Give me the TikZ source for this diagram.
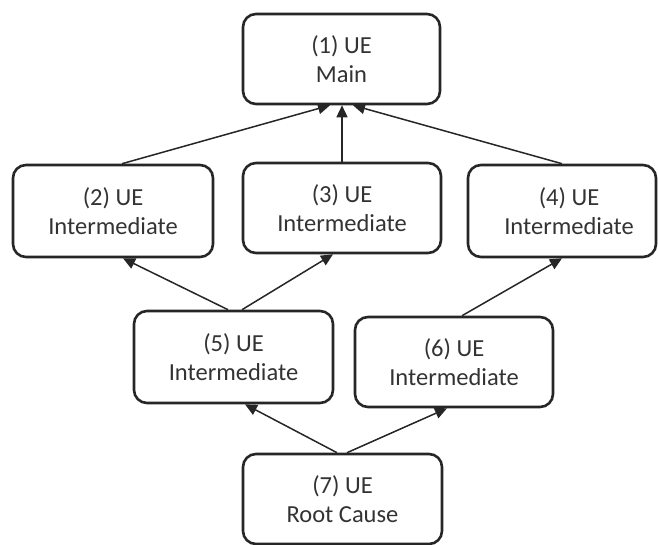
\documentclass[tikz,border=0pt]{standalone}
\usepackage{fontspec}
\setmainfont{Carlito}
\usetikzlibrary{arrows.meta}
\definecolor{edge}{HTML}{262626}
\definecolor{label}{HTML}{333333}
\tikzset{
  uebox/.style={draw=edge, line width=2.6pt, rounded corners=13pt, fill=white,
    align=center, text=label, font=\fontsize{24.5}{28.5}\selectfont,
    inner sep=0pt},
  link/.style={draw=edge, line width=1.5pt,
    -{Triangle[length=12pt,width=11pt]}},
}
\begin{document}
\begin{tikzpicture}[x=1pt,y=-1pt]
\useasboundingbox (0,0) rectangle (658,545);
% events, top to bottom
\node[uebox, minimum width=197pt, minimum height=90pt] (b1) at (341.5,59) {(1)\ UE\\Main};
\node[uebox, minimum width=200pt, minimum height=92pt] (b2) at (113,211) {(2) UE\\Intermediate};
\node[uebox, minimum width=198pt, minimum height=90pt] (b3) at (342,208) {(3) UE\\Intermediate};
\node[uebox, minimum width=188pt, minimum height=92pt] (b4) at (562,211)
  {\hspace*{14pt}(4) UE\\\hspace*{14pt}Intermediate};
\node[uebox, minimum width=199pt, minimum height=92pt] (b5) at (233.5,357) {(5) UE\\Intermediate};
\node[uebox, minimum width=198pt, minimum height=90pt] (b6) at (454,362) {(6) UE\\Intermediate};
\node[uebox, minimum width=199pt, minimum height=90pt] (b7) at (342.5,499) {(7) UE\\Root Cause};
% causal links
\draw[link] ([xshift=9pt]b2.north) -- ([xshift=-11.5pt]b1.south);
\draw[link] (b3.north) -- (b3.north |- b1.south);
\draw[link] (b4.north) -- ([xshift=11.5pt]b1.south);
\draw[link] ([xshift=-5.5pt]b5.north) -- ([xshift=10pt]b2.south);
\draw[link] ([xshift=8.5pt]b5.north) -- ([xshift=-9pt]b3.south);
\draw[link] ([xshift=8pt]b6.north) -- (b4.south);
\draw[link] ([xshift=-5.5pt]b7.north) -- ([xshift=11.5pt]b5.south);
\draw[link] ([xshift=4.5pt]b7.north) -- ([xshift=-7pt]b6.south);
\end{tikzpicture}
\end{document}
